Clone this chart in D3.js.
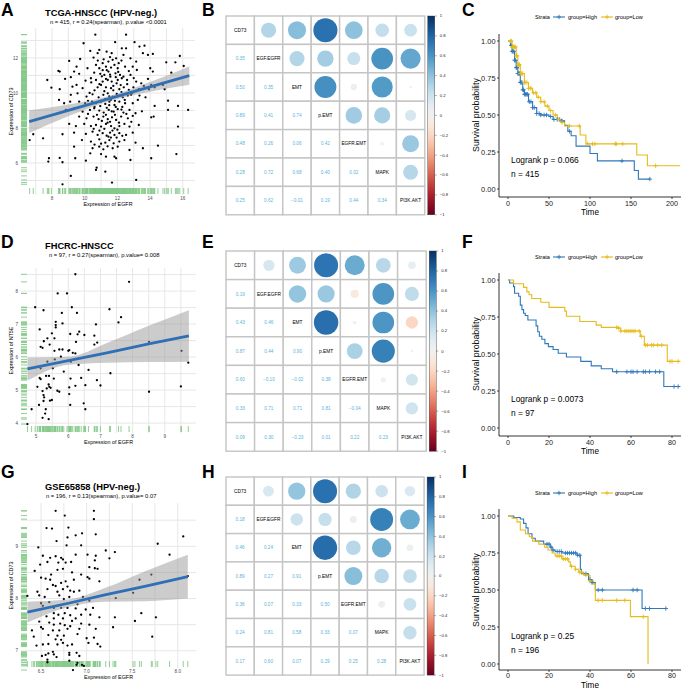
<!DOCTYPE html>
<html>
<head>
<meta charset="utf-8">
<script src="https://cdn.jsdelivr.net/npm/d3@7"></script>
<style>
body{margin:0;background:#fff}
svg{display:block;font-family:"Liberation Sans",Arial,sans-serif}
</style>
</head>
<body>
<script>
// ---------- scatter data (EGFR vs CD73 / NT5E) ----------
const ptsA = [[10.65,13.33],[12.53,13.33],[11.86,12.9],[13.05,12.9],[9.93,12.84],[10.89,12.46],[10.34,12.4],[10.79,12.27],[11.34,12.36],[11.65,12.27],[12.27,12.55],[12.37,12.17],[12.53,12.55],[13.35,12.65],[13.66,12.7],[13.56,12.27],[14.17,12.23],[13.87,12.17],[15.82,12.11],[9.72,11.94],[9.05,11.83],[10.54,12.02],[11.16,11.92],[11.45,11.79],[11.71,11.89],[11.92,11.98],[12.08,11.7],[12.8,11.98],[13.15,11.79],[14.99,11.75],[15.55,11.75],[9.5,11.5],[10.17,11.41],[10.69,11.6],[10.89,11.41],[11.3,11.5],[11.61,11.45],[11.82,11.6],[12.02,11.41],[12.47,11.5],[12.94,11.5],[13.19,11.31],[14.01,11.41],[16.06,11.54],[8.39,11.26],[8.47,11.22],[9.35,11.22],[9.66,11.09],[10.58,11.16],[10.95,11.09],[11.2,11.03],[11.45,11.22],[11.57,10.93],[11.88,11.12],[12.16,11.03],[12.37,10.93],[12.8,11.03],[14.17,11.22],[15.3,11.16],[7.71,10.74],[8.8,10.8],[9.15,10.9],[10.38,10.84],[10.69,10.74],[11.1,10.65],[11.41,10.74],[11.65,10.65],[12.02,10.74],[12.27,10.84],[12.59,10.74],[13.15,10.65],[13.46,10.55],[13.87,10.8],[14.07,10.46],[14.79,10.46],[7.96,10.3],[8.47,10.21],[9.25,10.36],[9.5,10.46],[9.87,10.27],[10.79,10.32],[11.0,10.46],[11.3,10.32],[11.61,10.27],[11.75,10.4],[12.12,10.21],[12.39,10.32],[12.7,10.17],[12.98,10.32],[13.31,10.21],[13.62,10.4],[13.93,10.21],[14.28,10.32],[14.89,10.21],[9.15,9.89],[9.56,9.98],[10.11,9.79],[10.48,9.92],[10.85,9.75],[11.14,9.89],[11.41,9.98],[11.71,9.79],[11.96,9.94],[12.33,9.75],[12.64,9.85],[12.84,9.89],[13.35,9.85],[13.72,9.75],[8.43,9.6],[8.74,9.41],[9.11,9.5],[9.66,9.5],[10.03,9.41],[10.69,9.41],[11.0,9.5],[11.26,9.37],[11.51,9.5],[11.82,9.31],[12.12,9.5],[12.47,9.41],[12.94,9.41],[14.28,9.26],[15.1,9.56],[15.71,9.26],[8.84,9.03],[9.35,9.12],[9.87,8.93],[10.32,9.03],[10.58,9.12],[10.89,8.99],[11.16,8.88],[11.47,9.03],[11.77,8.93],[12.02,9.07],[12.37,8.88],[12.74,9.03],[13.11,8.84],[15.1,9.03],[16.33,9.03],[9.66,8.65],[10.11,8.55],[10.54,8.65],[10.85,8.5],[11.14,8.65],[11.41,8.5],[11.67,8.61],[11.92,8.46],[12.23,8.65],[12.64,8.55],[12.94,8.69],[14.07,8.61],[14.22,8.65],[9.05,8.23],[9.46,8.11],[9.97,8.23],[10.38,8.11],[10.69,8.17],[11.0,8.08],[11.3,8.23],[11.61,8.11],[11.82,7.98],[12.12,8.11],[12.43,8.23],[12.74,8.08],[13.31,8.17],[15.71,8.08],[6.85,7.64],[6.63,7.31],[7.45,7.41],[8.64,7.64],[9.35,7.73],[10.07,7.66],[10.48,7.79],[10.79,7.6],[11.1,7.7],[11.34,7.56],[11.55,7.73],[11.82,7.6],[12.12,7.7],[12.53,7.6],[12.94,7.73],[9.83,7.31],[10.38,7.22],[10.89,7.35],[11.26,7.16],[11.51,7.31],[11.77,7.12],[12.12,7.22],[12.43,7.31],[13.11,7.16],[9.35,6.93],[10.48,6.84],[10.89,6.93],[11.14,6.78],[11.71,6.84],[12.02,6.93],[12.74,6.74],[13.56,6.84],[14.48,6.99],[10.34,6.55],[11.0,6.51],[11.3,6.36],[11.82,6.36],[11.92,6.27],[15.61,6.51],[7.81,6.27],[7.77,6.08],[8.47,6.29],[8.64,6.04],[9.42,6.27],[10.07,6.13],[12.8,6.17],[14.07,6.27],[10.73,5.73],[10.69,5.6],[11.26,5.5],[9.15,5.26],[13.15,5.03],[8.64,4.78],[11.67,4.88],
  [11.2,10.1],[11.6,9.6],[10.9,10.5],[12.3,9.2],[11.9,10.9],[10.6,9.2],[12.6,10.5],[11.4,8.3],[10.4,10.6],[12.0,7.9],[11.1,11.7],[10.2,8.8],[12.9,10.0],[11.5,9.3],[11.3,10.8],
  [11.05,10.95],[11.35,11.3],[11.55,11.05],[11.75,10.15],[11.95,10.55],[12.2,10.45],[11.25,9.65],[11.5,9.8],[11.85,9.55],[12.15,9.85],[10.95,9.25],[11.35,9.15],[11.65,8.95],[11.9,9.2],[12.25,9.05],[10.75,8.75],[11.05,8.4],[11.3,8.75],[11.55,8.35],[11.85,8.75],[12.1,8.3],[10.55,7.95],[10.9,7.85],[11.2,7.95],[11.45,7.5],[11.7,7.85],[11.95,7.45],[12.3,7.55],[10.6,7.05],[11.0,7.1],[11.4,6.95],[11.6,7.45],[12.25,10.05],[12.45,9.6],[12.55,8.8],[12.85,8.35],[10.3,10.0],[10.6,10.15],[10.2,9.55],[10.45,9.5],[10.05,10.7],[12.7,11.25],[12.05,11.2],[11.1,11.3],[10.8,11.85],[11.55,12.05],[12.25,11.85],[13.0,10.85],[13.25,9.6],[13.5,8.95]];
const fitA = [[6.6,8.36,7.71,9.01],[9.1,9.03,8.71,9.35],[11.5,9.68,9.53,9.83],[14.0,10.35,10.07,10.63],[16.4,10.99,10.47,11.51]];

const ptsD = [[6.22,8.51],[7.89,8.28],[5.67,7.93],[5.96,7.93],[4.97,7.51],[5.23,7.42],[6.11,7.51],[5.8,7.34],[6.27,7.34],[7.28,7.45],[7.64,7.21],[7.56,7.05],[5.61,7.07],[5.61,6.97],[5.82,7.02],[6.86,6.99],[5.11,6.84],[5.49,6.72],[5.61,6.9],[6.34,6.77],[6.29,6.69],[6.06,6.7],[6.5,6.67],[6.81,6.65],[5.35,6.57],[5.24,6.48],[5.42,6.38],[5.14,6.31],[5.2,6.28],[5.57,6.57],[6.24,6.46],[5.57,6.19],[5.72,6.23],[5.82,6.23],[6.0,6.19],[6.03,6.21],[6.14,6.13],[6.22,6.11],[6.81,6.38],[6.9,6.44],[8.51,6.46],[9.52,6.19],[9.73,5.83],[5.35,5.86],[5.58,5.93],[6.32,5.76],[6.63,5.61],[5.86,5.56],[7.31,5.51],[5.11,5.37],[5.14,5.33],[5.31,5.43],[5.4,5.43],[5.14,5.66],[6.07,5.35],[6.4,5.37],[5.55,5.35],[5.39,5.17],[5.41,5.1],[5.33,5.05],[5.45,5.07],[5.04,5.1],[5.66,4.98],[5.72,4.95],[6.03,5.08],[6.22,5.13],[6.53,5.15],[6.89,5.3],[7.0,5.14],[6.03,4.88],[5.2,4.97],[5.23,4.85],[5.25,4.78],[5.09,4.55],[5.23,4.67],[5.43,4.68],[5.49,4.7],[6.06,4.55],[6.48,4.6],[6.53,4.42],[4.86,4.42],[5.3,4.42],[5.28,4.29],[5.2,4.16],[5.39,4.12],[4.73,3.97],[8.51,4.95],[9.5,5.11],[5.52,5.66],[5.77,6.01],[6.08,5.86]];
const fitD = [[4.73,5.64,5.29,5.99],[6.0,5.89,5.77,6.01],[7.2,6.13,5.83,6.43],[8.5,6.4,5.85,6.95],[9.75,6.64,5.86,7.42]];

const ptsG = [[6.66,9.68],[7.08,9.68],[6.76,9.59],[7.08,9.52],[6.56,9.35],[6.62,9.34],[6.8,9.36],[6.95,9.25],[7.1,9.23],[6.79,9.17],[6.88,9.21],[6.47,8.98],[6.67,9.1],[6.78,9.02],[6.94,9.02],[7.78,9.05],[8.06,9.19],[7.21,8.92],[7.31,8.89],[6.52,8.82],[6.6,8.78],[6.66,8.81],[6.72,8.78],[6.74,8.75],[6.88,8.84],[7.01,8.84],[7.1,8.82],[7.91,8.84],[7.25,8.77],[7.09,8.73],[6.49,8.65],[6.57,8.7],[6.69,8.69],[6.77,8.69],[6.83,8.7],[7.03,8.6],[7.09,8.58],[7.12,8.57],[6.43,8.53],[6.61,8.46],[6.68,8.55],[6.74,8.57],[6.84,8.5],[6.94,8.46],[7.01,8.41],[7.03,8.38],[7.71,8.46],[8.11,8.43],[6.5,8.4],[6.55,8.38],[6.6,8.36],[6.63,8.26],[6.66,8.24],[6.72,8.3],[6.77,8.33],[6.79,8.23],[6.86,8.36],[7.14,8.33],[7.58,8.36],[6.46,8.13],[6.57,8.18],[6.68,8.13],[6.74,8.18],[6.82,8.15],[6.86,8.13],[6.92,8.15],[7.51,8.11],[6.35,8.05],[6.48,8.06],[6.54,8.03],[6.59,7.93],[6.7,8.06],[6.75,7.99],[6.81,8.03],[6.96,8.03],[7.03,7.96],[7.32,8.01],[6.5,7.91],[6.52,7.86],[6.64,7.82],[6.72,7.82],[6.79,7.82],[6.88,7.81],[6.9,7.89],[6.99,7.79],[7.07,7.82],[6.64,7.72],[6.69,7.69],[6.76,7.72],[6.82,7.68],[6.94,7.69],[7.04,7.69],[7.6,7.72],[6.56,7.66],[6.64,7.62],[6.74,7.62],[6.88,7.62],[7.14,7.64],[7.31,7.64],[7.76,7.64],[7.53,7.57],[6.48,7.56],[6.59,7.54],[6.64,7.5],[6.71,7.52],[6.76,7.49],[6.82,7.47],[6.84,7.57],[6.94,7.52],[7.03,7.5],[7.29,7.45],[6.5,7.45],[6.52,7.42],[6.63,7.39],[6.7,7.39],[6.79,7.42],[6.92,7.42],[7.1,7.42],[6.9,7.32],[6.58,7.3],[6.68,7.29],[6.75,7.29],[6.42,7.27],[7.72,7.27],[7.0,7.24],[7.08,7.25],[6.66,7.22],[6.72,7.21],[6.68,7.12],[6.74,7.15],[6.79,7.1],[6.52,7.12],[6.45,7.1],[6.58,7.13],[6.84,7.12],[7.02,7.15],[7.12,7.13],[7.15,7.08],[6.63,6.98],[6.81,6.96],[6.89,6.96],[6.51,6.9],[6.55,6.92],[6.58,6.95],[6.64,6.93],[6.67,6.88],[6.81,6.92],[6.92,6.9],[6.57,6.83],[6.81,6.81],[6.9,6.77],[6.95,6.73],[6.97,6.71],[6.89,6.73],[6.57,6.78],[6.85,6.63],[6.4,7.39]];
const fitG = [[6.35,7.74,7.54,7.94],[6.8,7.91,7.84,7.98],[7.2,8.07,7.94,8.2],[7.65,8.24,7.95,8.53],[8.11,8.42,8.0,8.84]];

// ---------- correlation matrices (lower triangle, row by row) ----------
const corrVars = ["CD73", "EGF.EGFR", "EMT", "p.EMT", "EGFR.EMT", "MAPK", "PI3K.AKT"];
const corrB = [[0.35], [0.50, 0.35], [0.89, 0.41, 0.74], [0.48, 0.26, 0.06, 0.42], [0.28, 0.72, 0.68, 0.40, 0.02], [0.25, 0.62, -0.01, 0.19, 0.44, 0.34]];
const corrE = [[0.19], [0.43, 0.46], [0.87, 0.44, 0.90], [0.60, -0.10, -0.02, 0.38], [0.33, 0.71, 0.71, 0.81, -0.04], [0.09, 0.30, -0.23, 0.01, 0.22, 0.23]];
const corrH = [[0.18], [0.46, 0.24], [0.89, 0.27, 0.91], [0.36, 0.07, 0.33, 0.50], [0.24, 0.81, 0.58, 0.33, 0.07], [0.17, 0.60, 0.07, 0.29, 0.25, 0.28]];
const barTicks = [1, 0.8, 0.6, 0.4, 0.2, 0, -0.2, -0.4, -0.6, -0.8, -1];

// ---------- survival curves: [time, survival] steps and censor times ----------
const kmC_high = [[0,1],[3,0.97],[5,0.93],[8,0.87],[10,0.82],[12,0.78],[15,0.72],[18,0.67],[20,0.64],[25,0.59],[30,0.55],[35,0.51],[40,0.5],[50,0.49],[55,0.47],[65,0.46],[69,0.43],[73,0.39],[77,0.36],[83,0.29],[100,0.24],[109,0.19],[154,0.125],[159,0.067]];
const kmC_low = [[0,1],[5,0.96],[10,0.9],[12,0.84],[15,0.78],[20,0.72],[25,0.68],[30,0.65],[35,0.62],[40,0.59],[45,0.56],[50,0.53],[55,0.5],[60,0.47],[65,0.45],[69,0.426],[88,0.365],[95,0.305],[157,0.23],[170,0.157]];
const censC_high = [4,5,6,7,8,9,10,11,12,13,14,15,16,17,18,19,20,21,22,23,24,26,28,30,32,35,38,40,44,47,52,56,60,63,66,75,139,173];
const censC_low = [3,4,5,6,7,8,9,10,11,12,13,14,15,16,17,18,20,21,23,25,27,28,31,34,37,40,44,48,52,58,62,66,75,87,97,103,106,131,132,140,180];
const endC = [173, 210];

const kmF_high = [[0,1],[0.8,0.98],[2.7,0.955],[3.2,0.91],[5.2,0.89],[6,0.83],[6.8,0.8],[7.6,0.775],[8.4,0.76],[9.7,0.73],[13.7,0.69],[14.5,0.65],[15.3,0.62],[16.5,0.6],[18,0.57],[19.7,0.55],[22,0.53],[24.5,0.505],[28.5,0.48],[35.5,0.45],[40.6,0.42],[45.5,0.4],[51,0.38],[76,0.28]];
const kmF_low = [[0,1],[2.7,0.975],[7.6,0.95],[9.2,0.92],[10.3,0.9],[11.6,0.875],[16,0.85],[20,0.815],[27.7,0.79],[28.5,0.755],[35,0.72],[43,0.695],[45.5,0.68],[53.5,0.675],[55,0.655],[64.5,0.62],[66.5,0.56],[77.7,0.45]];
const censF_high = [53,58,60,61,63,66,67,69,72,74,81,83];
const censF_low = [53,54,55,57,58,59,60,61,62,64,65,67,68,70,71,73,75,79,80,83];
const endF = [84, 84];

const kmI_high = [[0,1],[2.8,0.99],[6,0.98],[7.6,0.95],[8.8,0.92],[9.8,0.88],[11.7,0.85],[13.3,0.83],[17.4,0.81],[20.6,0.79],[21.5,0.77],[23,0.76],[26.3,0.75],[33.7,0.735],[35.3,0.64],[35.8,0.61],[39.3,0.57],[41,0.55],[42.6,0.5],[65.4,0.375]];
const kmI_low = [[0,1],[2,0.985],[4.4,0.96],[6,0.905],[8.5,0.88],[10.4,0.86],[12,0.83],[15,0.81],[17.9,0.79],[19.5,0.77],[21.5,0.75],[23,0.73],[26.3,0.71],[29.6,0.69],[30.4,0.66],[32.8,0.64],[34.5,0.62],[37,0.6],[40,0.56],[41.8,0.54],[42.6,0.43],[59.7,0.32],[68.3,0]];
const censI_high = [19,20,21,22,24,25,26,28,29,30,31,32,33,34,35,38,40,41,44,46,61,63,67,69,77];
const censI_low = [24,25,26,27,28,29,31,33,35,36,38,40,44,46,53,57,66];
const endI = [77, 68.3];

const groupNames = ["group=High", "group=Low"];
const groupColors = ["#2f78b9", "#e6bb1c"];

const W = 685, H = 690;
const svg = d3.select('body').append('svg').attr('width', W).attr('height', H);

// panel letters
const letters = [["A",1,16],["B",202,16],["C",462,16],["D",1,248],["E",202,248],["F",462,248],["G",1,478],["H",202,478],["I",462,478]];
letters.forEach(l => {
  svg.append('text').attr('x', l[1]).attr('y', l[2]).text(l[0])
    .style('font-size', '17.5px').style('font-weight', 'bold').attr('fill', '#000');
});

function drawScatter(o) {
  const x = d3.scaleLinear().domain(o.xdom).range([o.x0, o.x1]);
  const y = d3.scaleLinear().domain(o.ydom).range([o.y1, o.y0]);
  const g = svg.append('g');

  // grid
  d3.range(Math.ceil(o.xdom[0] / o.gx) * o.gx, o.xdom[1], o.gx).forEach(v => {
    g.append('line').attr('x1', x(v)).attr('x2', x(v)).attr('y1', o.y0).attr('y2', o.y1)
      .attr('stroke', '#e4e4e4').attr('stroke-width', 0.9);
  });
  d3.range(Math.ceil(o.ydom[0] / o.gy) * o.gy, o.ydom[1], o.gy).forEach(v => {
    g.append('line').attr('x1', o.x0).attr('x2', o.x1).attr('y1', y(v)).attr('y2', y(v))
      .attr('stroke', '#e4e4e4').attr('stroke-width', 0.9);
  });

  // rugs
  g.selectAll('.rx').data(o.pts).enter().append('line')
    .attr('x1', d => x(d[0])).attr('x2', d => x(d[0]))
    .attr('y1', o.y1 - 7).attr('y2', o.y1 - 1)
    .attr('stroke', '#86c98a').attr('stroke-width', 0.9);
  g.selectAll('.ry').data(o.pts).enter().append('line')
    .attr('y1', d => y(d[1])).attr('y2', d => y(d[1]))
    .attr('x1', o.x0).attr('x2', o.x0 + 6)
    .attr('stroke', '#86c98a').attr('stroke-width', 0.9);

  // points
  g.selectAll('circle').data(o.pts).enter().append('circle')
    .attr('cx', d => x(d[0])).attr('cy', d => y(d[1])).attr('r', 1.15).attr('fill', '#000');

  // smooth band + line
  const band = d3.area().x(d => x(d[0])).y0(d => y(d[2])).y1(d => y(d[3])).curve(d3.curveMonotoneX);
  g.append('path').attr('d', band(o.fit)).attr('fill', '#9a9a9a').attr('opacity', 0.5);
  const line = d3.line().x(d => x(d[0])).y(d => y(d[1]));
  g.append('path').attr('d', line(o.fit)).attr('fill', 'none')
    .attr('stroke', '#2f6fb5').attr('stroke-width', 2.8);

  // tick labels
  o.xt.forEach(v => {
    g.append('text').attr('x', x(v)).attr('y', o.y1 + 5).attr('text-anchor', 'middle')
      .text(o.xf(v)).style('font-size', '4.6px').attr('fill', '#4d4d4d');
  });
  o.yt.forEach(v => {
    g.append('text').attr('x', o.x0 - 3).attr('y', y(v) + 1.6).attr('text-anchor', 'end')
      .text(v).style('font-size', '4.6px').attr('fill', '#4d4d4d');
  });
  g.append('text').attr('x', (o.x0 + o.x1) / 2).attr('y', o.y1 + 11).attr('text-anchor', 'middle')
    .text('Expression of EGFR').style('font-size', '5.4px');
  g.append('text').attr('transform', `translate(13,${(o.y0 + o.y1) / 2}) rotate(-90)`)
    .attr('text-anchor', 'middle').text(o.ylab).style('font-size', '5.4px');

  // titles
  g.append('text').attr('x', 45).attr('y', o.ty).text(o.title)
    .style('font-size', '9.3px').style('font-weight', 'bold');
  g.append('text').attr('x', o.sx).attr('y', o.ty + 7.5).text(o.sub).style('font-size', '5.8px');
}

function drawCorr(o) {
  const n = corrVars.length;
  const c = o.size;
  const g = svg.append('g');
  const val = (i, j) => i > j ? o.m[i - 1][j] : o.m[j - 1][i];
  const barCol = v => d3.interpolateRdBu((v + 1) / 2);
  const dotCol = v => d3.interpolateRdBu(0.5 + v * 0.42);

  for (let i = 0; i < n; i++) {
    for (let j = 0; j < n; j++) {
      const cx = o.x0 + j * c, cy = o.y0 + i * c;
      g.append('rect').attr('x', cx).attr('y', cy).attr('width', c).attr('height', c)
        .attr('fill', '#fff').attr('stroke', '#c4c4c4').attr('stroke-width', 1.4);
      if (i === j) {
        g.append('text').attr('x', cx + c / 2).attr('y', cy + c / 2 + 1.6).attr('text-anchor', 'middle')
          .text(corrVars[i]).style('font-size', '4.8px').attr('fill', '#000');
      } else if (i > j) {
        g.append('text').attr('x', cx + c / 2).attr('y', cy + c / 2 + 1.6).attr('text-anchor', 'middle')
          .text(d3.format('.2f')(val(i, j))).style('font-size', '4.7px').attr('fill', '#62b3d9');
      } else {
        const v = val(i, j);
        g.append('circle').attr('cx', cx + c / 2).attr('cy', cy + c / 2)
          .attr('r', 0.45 * c * Math.sqrt(Math.abs(v))).attr('fill', dotCol(v));
      }
    }
  }

  // colour bar
  const h = n * c;
  const gid = 'grad' + o.id;
  const grad = svg.append('defs').append('linearGradient').attr('id', gid)
    .attr('x1', 0).attr('x2', 0).attr('y1', 0).attr('y2', 1);
  d3.range(0, 1.0001, 0.05).forEach(t => {
    grad.append('stop').attr('offset', t).attr('stop-color', barCol(1 - 2 * t));
  });
  const bx = o.x0 + h + 3;
  g.append('rect').attr('x', bx).attr('y', o.y0).attr('width', 7).attr('height', h)
    .attr('fill', `url(#${gid})`).attr('stroke', '#333').attr('stroke-width', 0.4);
  const by = d3.scaleLinear().domain([1, -1]).range([o.y0, o.y0 + h]);
  barTicks.forEach(v => {
    g.append('line').attr('x1', bx + 7).attr('x2', bx + 9).attr('y1', by(v)).attr('y2', by(v))
      .attr('stroke', '#333').attr('stroke-width', 0.4);
    g.append('text').attr('x', bx + 12).attr('y', by(v) + 1.4).text(v === 0 ? '0' : String(v).replace('-', '\u2212'))
      .style('font-size', '4.2px').attr('fill', '#222');
  });
}

function survAt(steps, t) {
  let s = 1;
  steps.forEach(d => { if (d[0] <= t) s = d[1]; });
  return s;
}

function drawKM(o) {
  const x = d3.scaleLinear().domain([0, o.xt[o.xt.length - 1]]).range([508, 672]);
  const y = d3.scaleLinear().domain([0, 1]).range([o.yb, o.yt]);
  const g = svg.append('g');

  // axes
  g.append('line').attr('x1', 499).attr('x2', 499).attr('y1', o.yt - 7).attr('y2', o.ax)
    .attr('stroke', '#000').attr('stroke-width', 0.8);
  g.append('line').attr('x1', 499).attr('x2', 681).attr('y1', o.ax).attr('y2', o.ax)
    .attr('stroke', '#000').attr('stroke-width', 0.8);
  [0, 0.25, 0.5, 0.75, 1].forEach(v => {
    g.append('line').attr('x1', 497).attr('x2', 499).attr('y1', y(v)).attr('y2', y(v)).attr('stroke', '#000').attr('stroke-width', 0.7);
    g.append('text').attr('x', 495.5).attr('y', y(v) + 2.6).attr('text-anchor', 'end')
      .text(d3.format('.2f')(v)).style('font-size', '7.4px').attr('fill', '#222');
  });
  o.xt.forEach(v => {
    g.append('line').attr('x1', x(v)).attr('x2', x(v)).attr('y1', o.ax).attr('y2', o.ax + 2).attr('stroke', '#000').attr('stroke-width', 0.7);
    g.append('text').attr('x', x(v)).attr('y', o.ax + o.tk).attr('text-anchor', 'middle')
      .text(v).style('font-size', '7.2px').attr('fill', '#222');
  });
  g.append('text').attr('x', 590).attr('y', o.ax + o.tt).attr('text-anchor', 'middle')
    .text('Time').style('font-size', '8.2px');
  g.append('text').attr('transform', `translate(479,${(o.yt + o.yb) / 2}) rotate(-90)`)
    .attr('text-anchor', 'middle').text('Survival probability').style('font-size', '8.8px');

  // curves
  const line = d3.line().x(d => x(d[0])).y(d => y(d[1])).curve(d3.curveStepAfter);
  [o.high, o.low].forEach((steps, k) => {
    const pts = steps.concat([[o.end[k], steps[steps.length - 1][1]]]);
    g.append('path').attr('d', line(pts)).attr('fill', 'none')
      .attr('stroke', groupColors[k]).attr('stroke-width', 1.1);
  });
  [o.ch, o.cl].forEach((cens, k) => {
    const steps = k === 0 ? o.high : o.low;
    cens.forEach(t => {
      const px = x(t), py = y(survAt(steps, t));
      g.append('path').attr('d', `M${px - 2.2},${py}H${px + 2.2}M${px},${py - 2.2}V${py + 2.2}`)
        .attr('stroke', groupColors[k]).attr('stroke-width', 0.9);
    });
  });

  // legend
  const ly = o.ly;
  g.append('text').attr('x', 535).attr('y', ly + 2).text('Strata').style('font-size', '5.6px');
  [[553, 568], [601, 615]].forEach((p, k) => {
    g.append('line').attr('x1', p[0]).attr('x2', p[0] + 12).attr('y1', ly).attr('y2', ly)
      .attr('stroke', groupColors[k]).attr('stroke-width', 1.1);
    g.append('path').attr('d', `M${p[0] + 3.8},${ly}H${p[0] + 8.2}M${p[0] + 6},${ly - 2.2}V${ly + 2.2}`)
      .attr('stroke', groupColors[k]).attr('stroke-width', 0.9);
    g.append('text').attr('x', p[1]).attr('y', ly + 2).text(groupNames[k]).style('font-size', '5.6px');
  });

  g.append('text').attr('x', 511).attr('y', o.lr).text(o.pv).style('font-size', '8.4px');
  g.append('text').attr('x', 511).attr('y', o.lr + 13.5).text(o.n).style('font-size', '8.4px');
}

const fmtInt = d3.format('d'), fmt1 = d3.format('.1f');

drawScatter({ pts: ptsA, fit: fitA, x0: 21, x1: 195, y0: 28, y1: 195, xdom: [6.1, 16.75], ydom: [4.17, 13.71],
  gx: 1, gy: 1, xt: [8, 10, 12, 14, 16], yt: [6, 8, 10, 12], xf: fmtInt, ylab: 'Expression of CD73',
  title: 'TCGA-HNSCC (HPV-neg.)', ty: 16, sx: 50, sub: 'n = 415, r = 0.24(spearman), p.value <0.0001' });
drawScatter({ pts: ptsD, fit: fitD, x0: 21, x1: 196, y0: 268, y1: 433, xdom: [4.53, 9.97], ydom: [3.7, 8.7],
  gx: 0.5, gy: 0.5, xt: [5, 6, 7, 8, 9], yt: [4, 5, 6, 7, 8], xf: fmtInt, ylab: 'Expression of NT5E',
  title: 'FHCRC-HNSCC', ty: 249, sx: 49, sub: 'n = 97, r = 0.27(spearman), p.value= 0.008' });
drawScatter({ pts: ptsG, fit: fitG, x0: 21, x1: 196, y0: 503, y1: 668, xdom: [6.28, 8.2], ydom: [6.67, 9.83],
  gx: 0.25, gy: 0.5, xt: [6.5, 7.0, 7.5, 8.0], yt: [7, 8, 9], xf: fmt1, ylab: 'Expression of CD73',
  title: 'GSE65858 (HPV-neg.)', ty: 490, sx: 46, sub: 'n = 196, r = 0.13(spearman), p.value= 0.07' });

drawCorr({ id: 'B', m: corrB, x0: 226, y0: 16, size: 28.4 });
drawCorr({ id: 'E', m: corrE, x0: 226, y0: 251, size: 28.6 });
drawCorr({ id: 'H', m: corrH, x0: 226, y0: 477, size: 28.3 });

drawKM({ high: kmC_high, low: kmC_low, ch: censC_high, cl: censC_low, end: endC, xt: [0, 50, 100, 150, 200],
  yt: 41, yb: 189, ax: 197, tk: 9, tt: 18, ly: 17, lr: 163, pv: 'Logrank p = 0.066', n: 'n = 415' });
drawKM({ high: kmF_high, low: kmF_low, ch: censF_high, cl: censF_low, end: endF, xt: [0, 20, 40, 60, 80],
  yt: 280, yb: 428, ax: 436, tk: 9, tt: 18, ly: 257, lr: 402, pv: 'Logrank p = 0.0073', n: 'n = 97' });
drawKM({ high: kmI_high, low: kmI_low, ch: censI_high, cl: censI_low, end: endI, xt: [0, 20, 40, 60, 80],
  yt: 516, yb: 664, ax: 670, tk: 8, tt: 18.3, ly: 493, lr: 639, pv: 'Logrank p = 0.25', n: 'n = 196' });
</script>
</body>
</html>
